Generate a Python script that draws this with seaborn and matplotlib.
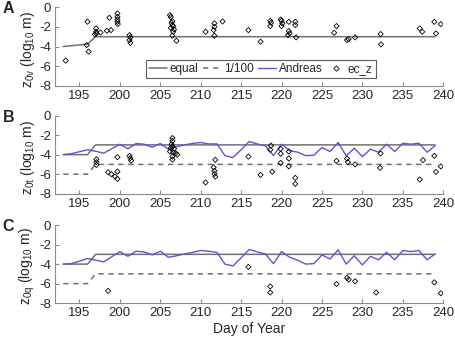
import numpy as np
import pandas as pd
import seaborn as sns
import matplotlib.pyplot as plt
from matplotlib.lines import Line2D

sns.set_style('ticks')
plt.rcParams['font.family'] = ['Liberation Sans', 'DejaVu Sans']
plt.rcParams['mathtext.fontset'] = 'custom'
plt.rcParams['mathtext.rm'] = 'Liberation Sans'
plt.rcParams['mathtext.it'] = 'Liberation Sans:italic'
plt.rcParams['axes.unicode_minus'] = False

# dias y curvas de referencia
days = np.arange(193, 240)
equal_days = [193, 196, 197, 239]
equal_a = [-4, -3.75, -3, -3]
equal_bc = [-4, -4, -3, -3]
hund_days = [193, 196, 197, 239]
hund_vals = [-6, -6, -5, -5]

# Andreas (panel B: z0t, panel C: z0q)
andreas_b = [-4.0, -3.9, -3.7, -3.5, -3.65, -3.85, -3.4, -2.93, -3.4, -2.86,
             -2.93, -3.24, -2.86, -3.44, -3.2, -3.0, -2.85, -2.76, -2.9, -2.9,
             -4.1, -4.3, -3.5, -2.66, -2.9, -3.1, -4.09, -2.93, -3.58, -3.75,
             -4.1, -4.06, -3.27, -3.68, -2.76, -4.12, -3.34, -4.2, -3.44, -3.75,
             -2.93, -3.68, -2.83, -2.93, -2.83, -3.75, -3.07]
andreas_c = [-4.0, -3.95, -3.7, -3.42, -3.6, -3.77, -3.25, -2.72, -3.2, -2.68,
             -2.75, -3.06, -2.68, -3.3, -3.15, -2.96, -2.8, -2.6, -2.68, -2.8,
             -4.0, -4.19, -3.35, -2.5, -2.75, -2.96, -3.95, -2.72, -3.3, -3.6,
             -4.0, -3.95, -3.06, -3.48, -2.54, -4.0, -3.14, -4.08, -3.2, -3.56,
             -2.79, -3.56, -2.61, -2.72, -2.61, -3.56, -2.96]

# ec_z (eddy covariance)
ec_a_day = [193.3, 195.9, 196.15, 196.0, 197.06, 197.06, 197.1, 196.9, 197.6,
            198.7, 198.4, 198.9, 199.7, 199.7, 199.7, 199.7, 199.75,
            201.2, 201.3, 201.2, 201.3,
            206.2, 206.3, 206.5, 206.4, 206.5, 206.6, 206.3, 206.7, 206.6, 206.5, 207.0,
            210.6, 211.7, 211.7, 211.6, 211.7, 212.7, 215.9, 217.4,
            218.6, 218.7, 218.6, 219.9, 220.0, 220.1, 220.0,
            220.9, 220.9, 221.0, 220.8, 221.7, 221.7, 221.8,
            226.5, 226.8, 228.1, 228.3, 229.1, 232.25, 232.3,
            237.1, 237.4, 238.9, 239.1, 239.7]
ec_a_val = [-5.43, -3.85, -4.52, -1.48, -2.16, -2.5, -2.67, -2.77, -2.57,
            -1.08, -2.4, -2.33, -0.64, -0.98, -1.25, -1.49, -1.72,
            -2.84, -3.07, -3.34, -3.62,
            -0.81, -1.0, -1.42, -1.6, -1.82, -1.95, -2.1, -2.26, -2.5, -2.9, -3.41,
            -2.5, -1.65, -1.99, -2.33, -2.9, -1.45, -2.33, -3.51,
            -1.39, -1.59, -1.92, -1.25, -1.39, -1.65, -1.92,
            -1.49, -2.43, -2.67, -2.84, -1.49, -1.82, -3.07,
            -2.6, -1.92, -3.34, -3.24, -3.07, -2.73, -3.78,
            -2.16, -2.5, -1.49, -2.67, -1.72]

ec_b_day = [197.1, 197.1, 197.1, 198.55, 198.95, 199.4, 199.7, 199.7, 199.7,
            201.2, 201.3, 201.4,
            206.5, 206.5, 206.4, 206.5, 206.3, 206.7, 206.2, 206.6, 206.9, 207.1, 206.5, 206.5,
            210.6, 211.8, 211.6, 211.7, 211.7, 211.8, 215.9, 217.4,
            218.7, 218.6, 218.85, 219.9, 219.9, 219.9, 220.9, 220.9, 220.9, 221.7, 221.7,
            226.8, 228.1, 228.2, 229.1, 232.25, 232.2, 237.1, 237.5, 238.9, 239.1, 239.7]
ec_b_val = [-4.48, -4.77, -5.05, -5.8, -6.0, -6.24, -4.26, -5.73, -6.48,
            -4.12, -4.36, -4.6,
            -2.3, -2.6, -2.93, -3.17, -3.34, -3.4, -3.68, -3.75, -3.85, -4.0, -4.2, -4.5,
            -6.85, -4.53, -5.3, -5.66, -5.97, -6.24, -4.2, -6.07,
            -3.07, -3.5, -5.75, -3.41, -3.9, -4.85, -3.68, -4.4, -5.2, -6.38, -7.0,
            -4.64, -4.4, -4.77, -5.0, -3.88, -5.35, -6.55, -4.56, -4.12, -5.77, -5.21]

ec_c_day = [198.55, 215.9, 218.6, 218.6, 226.8, 228.1, 228.3, 229.1, 231.7, 238.9, 239.7]
ec_c_val = [-6.74, -4.29, -6.29, -6.91, -6.04, -5.41, -5.58, -5.76, -6.91, -5.87, -6.99]

gris = '#707070'
azul = '#6650d8'
eje = '#8c8c8c'

fig = plt.figure(figsize=(4.56, 3.41), dpi=100)
posiciones = [0.121, 0.748, 0.851, 0.231], [0.121, 0.432, 0.851, 0.229], [0.121, 0.111, 0.851, 0.229]
axes = [fig.add_axes(p) for p in posiciones]

paneles = [
    ('A', equal_a, None, None, ec_a_day, ec_a_val, r'z$_{\mathrm{0v}}$ (log$_{\mathrm{10}}$ m)'),
    ('B', equal_bc, True, andreas_b, ec_b_day, ec_b_val, r'z$_{\mathrm{0t}}$ (log$_{\mathrm{10}}$ m)'),
    ('C', equal_bc, True, andreas_c, ec_c_day, ec_c_val, r'z$_{\mathrm{0q}}$ (log$_{\mathrm{10}}$ m)'),
]

for ax, (letra, eq, hund, andreas, ecd, ecv, ylab) in zip(axes, paneles):
    sns.lineplot(x=equal_days, y=eq, ax=ax, color=gris, lw=1.1, estimator=None)
    if hund:
        sns.lineplot(x=hund_days, y=hund_vals, ax=ax, color=gris, lw=1.1,
                     linestyle=(0, (3.5, 3)), estimator=None)
    if andreas is not None:
        sns.lineplot(x=days, y=andreas, ax=ax, color=azul, lw=1.0, estimator=None)
    sns.scatterplot(x=ecd, y=ecv, ax=ax, marker='D', s=7, facecolor='none',
                    edgecolor='black', linewidth=0.6, zorder=5)
    ax.set_xlim(192, 240)
    ax.set_ylim(-8, 0)
    ax.set_xticks(range(195, 241, 5))
    ax.set_yticks([0, -2, -4, -6, -8])
    ax.tick_params(direction='in', length=3, width=0.8, color=eje, labelsize=9.5, pad=3)
    for s in ['top', 'right']:
        ax.spines[s].set_visible(False)
    for s in ['left', 'bottom']:
        ax.spines[s].set_color(eje)
        ax.spines[s].set_linewidth(0.8)
    ax.set_ylabel(ylab, fontsize=10)
    ax.yaxis.set_label_coords(-0.046, 0.47)
    ax.set_xlabel('')
    fig.text(0.006, ax.get_position().y1 - 0.005, letra, fontsize=11.5, fontweight='bold',
             va='center', ha='left')

axes[2].set_xlabel('Day of Year', fontsize=10, labelpad=2)

handles = [
    Line2D([], [], color=gris, lw=1.1),
    Line2D([], [], color=gris, lw=1.1, linestyle=(0, (3.5, 3))),
    Line2D([], [], color=azul, lw=1.0),
    Line2D([], [], color='black', marker='D', markersize=2.7, markerfacecolor='none',
           linestyle='none', markeredgewidth=0.6),
]
leg = axes[0].legend(handles, ['equal', '1/100', 'Andreas', 'ec_z'], ncol=4,
                     loc='lower center', bbox_to_anchor=(0.53, 0.1), fontsize=8.5,
                     frameon=True, fancybox=False, handlelength=1.5, handletextpad=0.25,
                     columnspacing=0.4, borderpad=0.25, borderaxespad=0)
leg.get_frame().set_edgecolor('#333333')
leg.get_frame().set_linewidth(0.8)

fig.savefig('out.png', dpi=100)
